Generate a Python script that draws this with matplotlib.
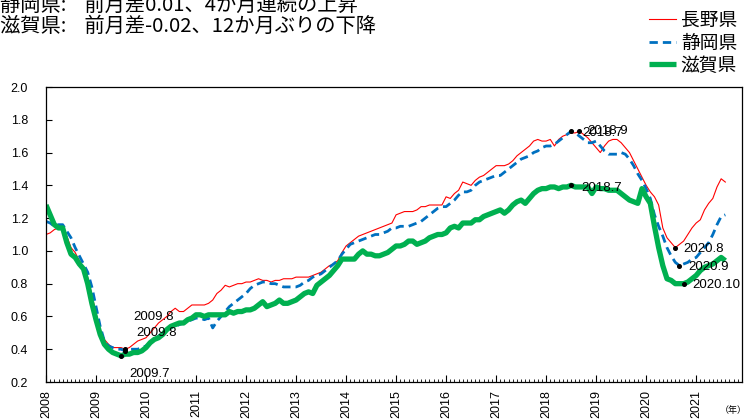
import matplotlib
matplotlib.use("Agg")
import matplotlib.pyplot as plt
from matplotlib.ticker import FixedLocator, MultipleLocator

plt.rcParams['font.family'] = ['Liberation Sans', 'Noto Sans CJK JP']
plt.rcParams['lines.scale_dashes'] = False
JP = ['Noto Sans CJK JP', 'DejaVu Sans']

# Monthly ratio, Jan 2008 .. Aug 2021 (one row per year)
nagano = [
    1.10, 1.11, 1.13, 1.14, 1.14, 1.09, 1.02, 0.99, 0.94, 0.90, 0.84, 0.73,
    0.62, 0.52, 0.46, 0.43, 0.41, 0.41, 0.41, 0.40, 0.41, 0.43, 0.45, 0.46,
    0.47, 0.50, 0.53, 0.56, 0.58, 0.60, 0.63, 0.65, 0.63, 0.63, 0.65, 0.67,
    0.67, 0.67, 0.67, 0.68, 0.70, 0.74, 0.76, 0.79, 0.78, 0.79, 0.80, 0.80,
    0.81, 0.81, 0.82, 0.83, 0.82, 0.82, 0.81, 0.82, 0.82, 0.83, 0.83, 0.83,
    0.84, 0.84, 0.84, 0.84, 0.85, 0.86, 0.87, 0.89, 0.91, 0.92, 0.94, 0.99,
    1.03, 1.05, 1.07, 1.09, 1.10, 1.11, 1.12, 1.13, 1.14, 1.15, 1.16, 1.17,
    1.22, 1.23, 1.24, 1.24, 1.24, 1.25, 1.27, 1.27, 1.28, 1.28, 1.28, 1.28,
    1.33, 1.32, 1.35, 1.37, 1.42, 1.41, 1.40, 1.43, 1.45, 1.46, 1.48, 1.50,
    1.52, 1.52, 1.52, 1.53, 1.55, 1.58, 1.60, 1.62, 1.64, 1.67, 1.68, 1.67,
    1.67, 1.68, 1.64, 1.68, 1.70, 1.71, 1.72, 1.72, 1.73, 1.71, 1.69, 1.66,
    1.63, 1.60, 1.64, 1.67, 1.68, 1.68, 1.66, 1.63, 1.60, 1.55, 1.50, 1.45,
    1.40, 1.36, 1.33, 1.28, 1.14, 1.08, 1.05, 1.02, 1.04, 1.06, 1.10, 1.14,
    1.17, 1.19, 1.25, 1.29, 1.32, 1.39, 1.44, 1.42,
]
shizuoka = [
    1.18, 1.17, 1.15, 1.16, 1.16, 1.12, 1.08, 1.02, 0.97, 0.92, 0.87, 0.78,
    0.66, 0.54, 0.45, 0.42, 0.41, 0.40, 0.40, 0.39, 0.40, 0.40, 0.40, 0.41,
    0.42, 0.44, 0.46, 0.48, 0.50, 0.52, 0.53, 0.54, 0.55, 0.56, 0.57, 0.58,
    0.59, 0.59, 0.58, 0.59, 0.53, 0.57, 0.60, 0.63, 0.66, 0.68, 0.70, 0.72,
    0.74, 0.77, 0.79, 0.80, 0.81, 0.81, 0.80, 0.80, 0.79, 0.78, 0.78, 0.78,
    0.78, 0.79, 0.81, 0.82, 0.84, 0.85, 0.86, 0.88, 0.90, 0.92, 0.94, 0.98,
    1.01, 1.04, 1.05, 1.06, 1.07, 1.08, 1.09, 1.10, 1.10, 1.11, 1.12, 1.14,
    1.14, 1.15, 1.15, 1.15, 1.16, 1.17, 1.18, 1.20, 1.22, 1.24, 1.26, 1.27,
    1.27, 1.29, 1.31, 1.34, 1.36, 1.36, 1.37, 1.40, 1.42, 1.43, 1.44, 1.45,
    1.46, 1.46, 1.48, 1.50, 1.52, 1.54, 1.56, 1.57, 1.58, 1.60, 1.61, 1.63,
    1.64, 1.64, 1.65, 1.67, 1.69, 1.71, 1.73, 1.72, 1.70, 1.68, 1.66, 1.66,
    1.67, 1.64, 1.61, 1.59, 1.59, 1.59, 1.60, 1.59, 1.56, 1.52, 1.47, 1.43,
    1.38, 1.32, 1.22, 1.15, 1.09, 1.02, 0.97, 0.93, 0.91, 0.92, 0.93, 0.95,
    0.96, 0.99, 1.02, 1.05, 1.10, 1.16, 1.21, 1.22,
]
shiga = [
    1.28, 1.22, 1.16, 1.14, 1.14, 1.05, 0.98, 0.96, 0.92, 0.89, 0.80, 0.68,
    0.58, 0.49, 0.43, 0.40, 0.38, 0.37, 0.36, 0.37, 0.37, 0.38, 0.38, 0.39,
    0.41, 0.44, 0.46, 0.47, 0.49, 0.52, 0.54, 0.55, 0.56, 0.56, 0.58, 0.59,
    0.61, 0.61, 0.60, 0.61, 0.61, 0.61, 0.61, 0.61, 0.63, 0.62, 0.63, 0.63,
    0.64, 0.64, 0.65, 0.67, 0.69, 0.66, 0.67, 0.68, 0.70, 0.68, 0.68, 0.69,
    0.70, 0.72, 0.74, 0.75, 0.74, 0.79, 0.81, 0.83, 0.85, 0.88, 0.91, 0.95,
    0.95, 0.95, 0.95, 0.98, 1.00, 0.98, 0.98, 0.97, 0.97, 0.98, 0.99, 1.01,
    1.03, 1.03, 1.04, 1.06, 1.06, 1.04, 1.05, 1.06, 1.08, 1.09, 1.10, 1.10,
    1.11, 1.14, 1.15, 1.14, 1.17, 1.17, 1.17, 1.19, 1.19, 1.21, 1.22, 1.23,
    1.24, 1.25, 1.23, 1.25, 1.28, 1.30, 1.31, 1.29, 1.32, 1.35, 1.37, 1.38,
    1.38, 1.39, 1.39, 1.38, 1.39, 1.39, 1.40, 1.39, 1.39, 1.39, 1.39, 1.35,
    1.39, 1.38, 1.38, 1.37, 1.37, 1.37, 1.35, 1.33, 1.31, 1.30, 1.29, 1.38,
    1.33, 1.29, 1.15, 1.02, 0.91, 0.83, 0.82, 0.80, 0.80, 0.80, 0.81, 0.83,
    0.85, 0.88, 0.90, 0.91, 0.92, 0.94, 0.96, 0.94,
]

series = {"長野県": nagano, "静岡県": shizuoka, "滋賀県": shiga}
first_year, last_year = 2008, 2021
year_labels = [str(y) for y in range(first_year, last_year + 1)]

# turning points to mark: (prefecture, "year.month", label offset in pt)
notes = [
    ("長野県", "2009.8", (6, 24)),
    ("静岡県", "2009.8", (8, 14)),
    ("滋賀県", "2009.7", (6, -12)),
    ("静岡県", "2018.7", (8, -0.5)),
    ("長野県", "2018.9", (5.5, 1)),
    ("滋賀県", "2018.7", (7, -0.5)),
    ("長野県", "2020.8", (5.5, 0)),
    ("静岡県", "2020.9", (6, 0)),
    ("滋賀県", "2020.10", (6, 0)),
]

W, H = 746, 419
fig = plt.figure(figsize=(W / 100, H / 100), dpi=100)
ax = fig.add_axes([46 / W, 1 - 382 / H, 696 / W, 295 / H])

styles = {
    "長野県": dict(color="#ff0000", lw=0.8),
    "静岡県": dict(color="#0070c0", lw=2.0, dashes=(6, 3.6)),
    "滋賀県": dict(color="#00b050", lw=3.8, solid_capstyle="butt"),
}
handles = []
for name, vals in series.items():
    ln, = ax.plot(range(len(vals)), vals, label=name, **styles[name])
    handles.append(ln)

for name, ym, off in notes:
    y, m = ym.split(".")
    i = (int(y) - first_year) * 12 + int(m) - 1
    v = series[name][i]
    ax.plot(i, v, "o", color="black", ms=2.6, zorder=5)
    ax.annotate(ym, (i, v), xytext=off, textcoords="offset points",
                ha="left", va="center_baseline", fontsize=9.5, zorder=6)

nmonths = (last_year - first_year + 1) * 12
ax.set_xlim(0, nmonths - 1)
ax.set_ylim(0.2, 2.0)
ax.xaxis.set_major_locator(FixedLocator(range(0, nmonths, 12)))
ax.xaxis.set_minor_locator(MultipleLocator(1))
ax.set_xticklabels(year_labels, rotation=90, fontsize=9)
ax.set_yticks([round(0.2 * k, 1) for k in range(1, 11)])
ax.set_yticklabels([f"{0.2 * k:.1f}" for k in range(1, 11)], fontsize=9)
ax.tick_params(axis="x", which="major", direction="in", length=5, width=0.8, pad=6)
ax.tick_params(axis="x", which="minor", direction="in", length=2.5, width=0.6)
ax.tick_params(axis="y", direction="in", length=4, width=0.8, pad=13)
for sp in ax.spines.values():
    sp.set_linewidth(0.9)

fig.legend(handles=handles, loc="upper right", bbox_to_anchor=(737 / W, 1 - 10 / H),
           frameon=False, prop={"family": JP, "size": 13.5}, handlelength=1.45,
           handletextpad=0.25, labelspacing=0.08, borderpad=0, borderaxespad=0)

fig.text(0.0, 1 - 3 / H, "静岡県:    前月差0.01、4か月連続の上昇",
         family=JP, fontsize=14.6, va="center_baseline")
fig.text(0.0, 1 - 24 / H, "滋賀県:    前月差-0.02、12か月ぶりの下降",
         family=JP, fontsize=14.6, va="center_baseline")
fig.text(733 / W, 1 - 410 / H, "（年）", family=JP, fontsize=6.5,
         ha="center", va="center")

fig.savefig("out.png", dpi=100)
